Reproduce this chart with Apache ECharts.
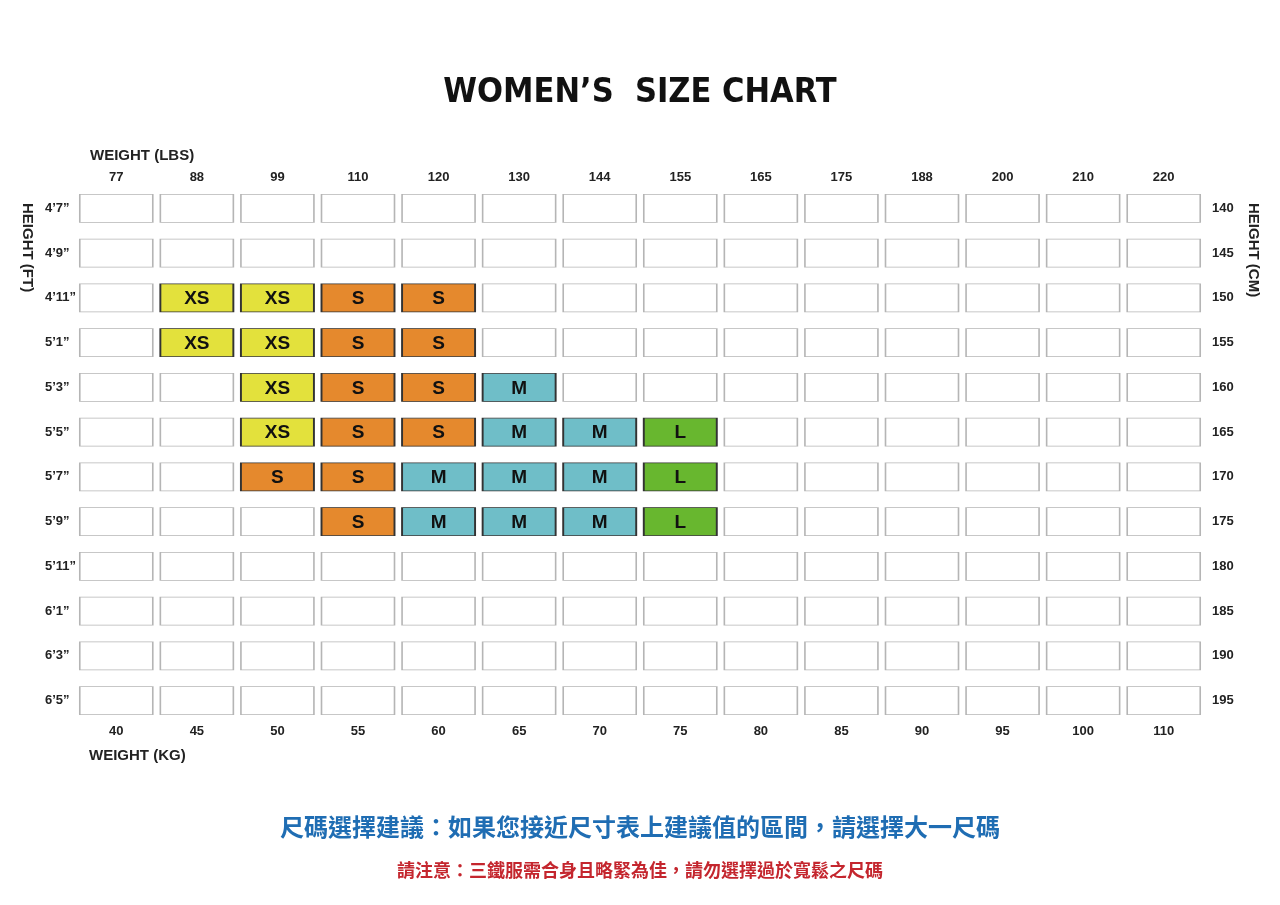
<!DOCTYPE html>
<html><head><meta charset="utf-8">
<script src="https://cdn.jsdelivr.net/npm/echarts@6/dist/echarts.min.js"></script>
<style>html,body{margin:0;padding:0;background:#fff}#c{width:1280px;height:905px}</style>
</head><body><div id="c"></div>
<script>
const lbs = ['77','88','99','110','120','130','144','155','165','175','188','200','210','220'];
const kg = ['40','45','50','55','60','65','70','75','80','85','90','95','100','110'];
const ft = ['4\u20197\u201d','4\u20199\u201d','4\u201911\u201d','5\u20191\u201d','5\u20193\u201d','5\u20195\u201d','5\u20197\u201d','5\u20199\u201d','5\u201911\u201d','6\u20191\u201d','6\u20193\u201d','6\u20195\u201d'];
const cm = ['140','145','150','155','160','165','170','175','180','185','190','195'];
const sizeRows = [
 ['','','','','','','','','','','','','',''],
 ['','','','','','','','','','','','','',''],
 ['','XS','XS','S','S','','','','','','','','',''],
 ['','XS','XS','S','S','','','','','','','','',''],
 ['','','XS','S','S','M','','','','','','','',''],
 ['','','XS','S','S','M','M','L','','','','','',''],
 ['','','S','S','M','M','M','L','','','','','',''],
 ['','','','S','M','M','M','L','','','','','',''],
 ['','','','','','','','','','','','','',''],
 ['','','','','','','','','','','','','',''],
 ['','','','','','','','','','','','','',''],
 ['','','','','','','','','','','','','','']
];
const colors = {XS:'#e3e13c', S:'#e5892d', M:'#6fbec8', L:'#68b72f', '':'#ffffff'};
const data = [];
sizeRows.forEach((r,ri)=>r.forEach((s,ci)=>data.push({value:[ci,ri],size:s,
  itemStyle:{color:colors[s],opacity:1,borderColor:s?'#333':'#b5b5b5',borderWidth:s?1.2:1},
  label:{show:!!s,formatter:s}})));
const lab = {color:'#222',fontSize:13,fontWeight:'bold',fontFamily:'Liberation Sans, Arial'};
const chart = echarts.init(document.getElementById('c'));
chart.setOption({
 animation:false,
 grid:{left:76,right:76,top:186,bottom:182},
 xAxis:[
  {type:'category',data:lbs,position:'top',axisLine:{show:false},axisTick:{show:false},axisLabel:Object.assign({margin:2},lab)},
  {type:'category',data:kg,position:'bottom',axisLine:{show:false},axisTick:{show:false},axisLabel:Object.assign({margin:2},lab)}
 ],
 yAxis:[
  {type:'category',data:ft,inverse:true,position:'left',axisLine:{show:false},axisTick:{show:false},axisLabel:Object.assign({margin:4,align:'left',padding:[0,0,0,-27]},lab)},
  {type:'category',data:cm,inverse:true,position:'right',axisLine:{show:false},axisTick:{show:false},axisLabel:Object.assign({margin:8},lab)}
 ],
 series:[{type:'scatter',symbol:'rect',symbolSize:[73,28],data:data,itemStyle:{opacity:1},
  emphasis:{disabled:true},
  label:{position:'inside',color:'#111',fontSize:19,fontWeight:'bold',fontFamily:'Liberation Sans, Arial',offset:[0,1]}}],
 graphic:[
  {type:'text',left:'center',top:76,style:{text:'WOMEN\u2019S  SIZE CHART',font:'bold 34px "DejaVu Sans Condensed", "Liberation Sans", Arial',fill:'#111'}},
  {type:'text',left:90,top:148,style:{text:'WEIGHT (LBS)',font:'bold 15px "Liberation Sans", Arial',fill:'#222'}},
  {type:'text',left:89,top:748,style:{text:'WEIGHT (KG)',font:'bold 15px "Liberation Sans", Arial',fill:'#222'}},
  {type:'text',x:35,y:203,rotation:-Math.PI/2,style:{text:'HEIGHT (FT)',font:'bold 15px "Liberation Sans", Arial',fill:'#222'}},
  {type:'text',x:1261,y:203,rotation:-Math.PI/2,style:{text:'HEIGHT (CM)',font:'bold 15px "Liberation Sans", Arial',fill:'#222'}},
  {type:'text',left:'center',top:815,style:{text:'尺碼選擇建議：如果您接近尺寸表上建議值的區間，請選擇大一尺碼',font:'bold 24px "Noto Sans CJK TC"',fill:'#1f6db3'}},
  {type:'text',left:'center',top:861,style:{text:'請注意：三鐵服需合身且略緊為佳，請勿選擇過於寬鬆之尺碼',font:'bold 18px "Noto Sans CJK TC"',fill:'#c4262e'}}
 ]
});
</script></body></html>
